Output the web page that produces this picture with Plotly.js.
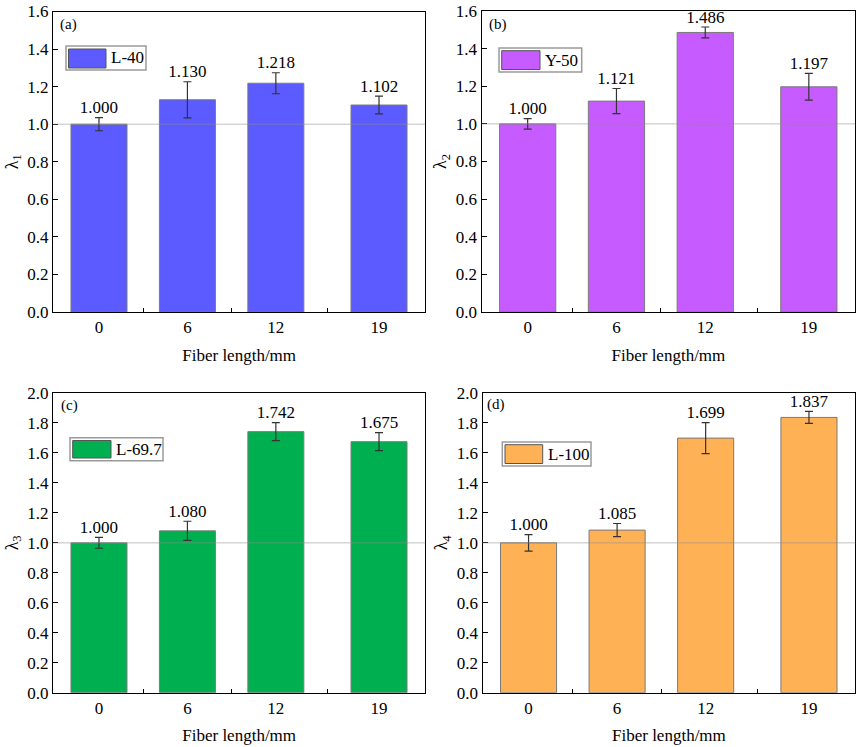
<!DOCTYPE html>
<html>
<head>
<meta charset="utf-8">
<script src="https://cdn.plot.ly/plotly-3.0.1.min.js"></script>
<style>
html,body{margin:0;padding:0;background:#fff;}
#chart{width:858px;height:747px;}
</style>
</head>
<body>
<div id="chart"></div>
<script>
// ---- data ----
const fiberLengths = [0, 6, 12, 19];
const tickLabels = ["0", "6", "12", "19"];
const seriesNames = ["L-40", "Y-50", "L-69.7", "L-100"];
const panelLabels = ["(a)", "(b)", "(c)", "(d)"];
const yTitles = ["λ<sub>1</sub>", "λ<sub>2</sub>", "λ<sub>3</sub>", "λ<sub>4</sub>"];

const lambda1 = [1.000, 1.130, 1.218, 1.102];
const lambda1Err = [0.035, 0.096, 0.056, 0.047];
const lambda2 = [1.000, 1.121, 1.486, 1.197];
const lambda2Err = [0.028, 0.067, 0.029, 0.071];
const lambda3 = [1.000, 1.080, 1.742, 1.675];
const lambda3Err = [0.036, 0.064, 0.060, 0.060];
const lambda4 = [1.000, 1.085, 1.699, 1.837];
const lambda4Err = [0.055, 0.044, 0.103, 0.040];

const yMax = [1.6, 1.6, 2.0, 2.0];
const colors = ["#5b5bff", "#c65bff", "#00b050", "#ffb155"];

// ---- layout helpers ----
const W = 858, H = 747;
const px = v => v / W;
const py = v => 1 - v / H;
const FONT = "Liberation Serif, Times New Roman, serif";

const values = [lambda1, lambda2, lambda3, lambda4];
const errs = [lambda1Err, lambda2Err, lambda3Err, lambda4Err];

const xDomains = [[53, 425.3], [481.5, 855.3], [53, 425.3], [482.5, 855.3]];
const yDomains = [[11.5, 312], [11, 312], [393, 692.7], [393, 692.7]];

const legendBoxes = [
  {box: [66, 46, 146, 70], sw: [68.5, 49, 106, 68]},
  {box: [499, 48, 581.7, 72], sw: [501.7, 50.7, 540, 69.5]},
  {box: [70, 437.7, 163, 460.7], sw: [72.7, 440.5, 111, 458]},
  {box: [502.3, 442, 591, 466], sw: [505, 444.7, 542.7, 463.5]}
];
const panelLabelPos = [[68, 25], [497.7, 24.3], [69.3, 405], [495.7, 404.3]];

const data = [];
const layout = {
  width: W, height: H,
  margin: {l: 0, r: 0, t: 0, b: 0},
  paper_bgcolor: "#fff", plot_bgcolor: "#fff",
  showlegend: false,
  font: {family: FONT, size: 17, color: "#000"},
  shapes: [], annotations: []
};

for (let i = 0; i < 4; i++) {
  const s = i === 0 ? "" : String(i + 1);
  const xa = "x" + s, ya = "y" + s;
  data.push({
    type: "bar", x: fiberLengths, y: values[i], width: 3.8,
    xaxis: xa, yaxis: ya, name: seriesNames[i],
    marker: {color: colors[i], line: {color: "#7a7a7a", width: 1}},
    error_y: {type: "data", array: errs[i], visible: true, color: "#333", thickness: 1.2, width: 4}
  });
  data.push({
    type: "scatter", mode: "text", x: fiberLengths,
    y: values[i].map((v, k) => v + errs[i][k]),
    text: values[i].map(v => v.toFixed(3)),
    textposition: "top center",
    textfont: {family: FONT, size: 17, color: "#000"},
    cliponaxis: false, hoverinfo: "skip",
    xaxis: xa, yaxis: ya
  });
  layout["xaxis" + s] = {
    domain: [px(xDomains[i][0]), px(xDomains[i][1])],
    anchor: ya, range: [-3.12, 22.14],
    tickmode: "array", tickvals: fiberLengths, ticktext: tickLabels,
    ticks: "", showgrid: false, zeroline: false,
    showline: true, mirror: true, linecolor: "#000", linewidth: 1,
    tickfont: {family: FONT, size: 17, color: "#000"},
    minor: {tickmode: "array", tickvals: [3, 9, 15.5], ticks: "inside", ticklen: 4, tickcolor: "#000", tickwidth: 1, showgrid: false},
    title: {text: "Fiber length/mm", font: {family: FONT, size: 17, color: "#000"}, standoff: 12}
  };
  layout["yaxis" + s] = {
    domain: [py(yDomains[i][1]), py(yDomains[i][0])],
    anchor: xa, range: [0, yMax[i]], dtick: 0.2, tick0: 0, tickformat: ".1f",
    ticks: "inside", ticklen: 5, tickcolor: "#000", tickwidth: 1,
    showgrid: false, zeroline: false,
    showline: true, mirror: true, linecolor: "#000", linewidth: 1,
    tickfont: {family: FONT, size: 17, color: "#000"},
    title: {text: yTitles[i], font: {family: FONT, size: 18, color: "#000"}, standoff: 4}
  };
  // reference line at 1.0
  layout.shapes.push({
    type: "line", xref: xa + " domain", x0: 0, x1: 1, yref: ya, y0: 1, y1: 1,
    line: {color: "rgba(140,140,140,0.55)", width: 1}, layer: "above"
  });
  // legend box
  const lb = legendBoxes[i];
  layout.shapes.push({
    type: "rect", xref: "paper", yref: "paper",
    x0: px(lb.box[0]), x1: px(lb.box[2]), y0: py(lb.box[3]), y1: py(lb.box[1]),
    line: {color: "#9a9a9a", width: 1.5}, fillcolor: "#fff", layer: "above"
  });
  layout.shapes.push({
    type: "rect", xref: "paper", yref: "paper",
    x0: px(lb.sw[0]), x1: px(lb.sw[2]), y0: py(lb.sw[3]), y1: py(lb.sw[1]),
    line: {color: "#555", width: 1}, fillcolor: colors[i], layer: "above"
  });
  layout.annotations.push({
    xref: "paper", yref: "paper", x: px(lb.sw[2] + 3), y: py((lb.box[1] + lb.box[3]) / 2),
    xanchor: "left", yanchor: "middle", showarrow: false,
    text: seriesNames[i], font: {family: FONT, size: 17, color: "#000"}
  });
  // panel label
  layout.annotations.push({
    xref: "paper", yref: "paper", x: px(panelLabelPos[i][0]), y: py(panelLabelPos[i][1]),
    xanchor: "center", yanchor: "middle", showarrow: false,
    text: panelLabels[i], font: {family: FONT, size: 15, color: "#000"}
  });
}

Plotly.newPlot("chart", data, layout, {displayModeBar: false, staticPlot: true});
</script>
</body>
</html>
